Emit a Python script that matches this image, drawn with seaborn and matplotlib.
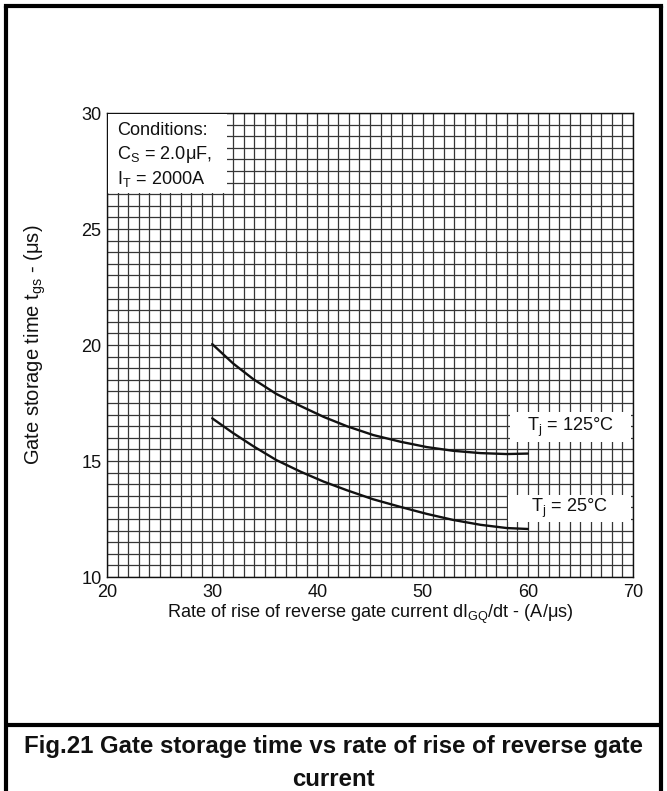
import numpy as np
import pandas as pd
import matplotlib
matplotlib.use("Agg")
import matplotlib.pyplot as plt
from matplotlib.patches import Rectangle
from matplotlib.lines import Line2D
from matplotlib import font_manager
import seaborn as sns

# ---- data ----
x_125 = [30, 32, 33.9, 36.1, 38.4, 40.6, 42.8, 45.3, 47.9, 50.4, 52.9, 55.5, 58, 60]
y_125 = [20.04, 19.2, 18.53, 17.89, 17.37, 16.9, 16.5, 16.12, 15.83, 15.6, 15.44, 15.34, 15.3, 15.32]
x_25 = [30, 32, 33.9, 36.1, 38.4, 40.6, 42.8, 45.3, 47.9, 50.4, 52.9, 55.5, 58, 60]
y_25 = [16.84, 16.2, 15.64, 15.04, 14.54, 14.11, 13.74, 13.35, 13.02, 12.72, 12.46, 12.25, 12.11, 12.07]
x_ticks = [20, 30, 40, 50, 60, 70]
y_ticks = [10, 15, 20, 25, 30]
series_labels = ["T$_{\\mathregular{j}}$ = 125°C", "T$_{\\mathregular{j}}$ = 25°C"]

df = pd.concat([
    pd.DataFrame({"x": x_125, "y": y_125, "s": "125"}),
    pd.DataFrame({"x": x_25, "y": y_25, "s": "25"}),
])

sns.set_style("white")
names = {f.name for f in font_manager.fontManager.ttflist}
if "Liberation Sans Narrow" in names:
    narrow = "Liberation Sans Narrow"
    k = 1.0
else:
    narrow = "Liberation Sans"
    k = 0.84
plt.rcParams["font.family"] = ["Liberation Sans", "DejaVu Sans"]
plt.rcParams["mathtext.fontset"] = "custom"
plt.rcParams["mathtext.rm"] = "Liberation Sans"
plt.rcParams["mathtext.default"] = "regular"

NF = [narrow, "DejaVu Sans"]
fs = 15.5 * k
ink = "#111111"

fig = plt.figure(figsize=(6.67, 7.91), dpi=100)
ax = fig.add_axes([107/667, 1-577/791, (633-107)/667, (577-113)/791])

# fine grid
ax.set_xlim(20, 70)
ax.set_ylim(10, 30)
ax.set_xticks(x_ticks)
ax.set_yticks(y_ticks)
ax.set_xticks(np.arange(20, 70.01, 1), minor=True)
ax.set_yticks(np.arange(10, 30.01, 0.5), minor=True)
ax.grid(which="both", color="#363636", linewidth=0.9)
ax.set_axisbelow(True)
ax.tick_params(which="both", length=0, colors=ink)
ax.tick_params(axis="x", pad=5)
ax.tick_params(axis="y", pad=4)
for lab in ax.get_xticklabels() + ax.get_yticklabels():
    lab.set_family(NF)
    lab.set_fontsize(fs)
for s in ax.spines.values():
    s.set_color(ink)
    s.set_linewidth(1.0)

sns.lineplot(data=df, x="x", y="y", units="s", estimator=None, color=ink,
             linewidth=1.7, ax=ax, legend=False, zorder=5, sort=False)

ax.set_xlabel("Rate of rise of reverse gate current dI$_{\\mathregular{GQ}}$/dt - (A/μs)",
              fontsize=fs, family=NF, labelpad=1, color=ink)
ax.set_ylabel("Gate storage time t$_{\\mathregular{gs}}$ - (μs)", fontsize=14.5,
              labelpad=0, color=ink)
ax.yaxis.set_label_coords((35 - 107) / (633 - 107), 0.5)
ax.yaxis.label.set_va("center")

# annotation boxes
ax.add_patch(Rectangle((20.1, 26.55), 11.3, 3.4, facecolor="white", edgecolor="none", zorder=3))
ax.text(20.95, 29.6, "Conditions:\nC$_{\\mathregular{S}}$ = 2.0μF,\nI$_{\\mathregular{T}}$ = 2000A",
        fontsize=fs, family=NF, va="top", ha="left", linespacing=1.3, zorder=6, color=ink)
ax.add_patch(Rectangle((58.3, 15.82), 11.55, 1.3, facecolor="white", edgecolor="none", zorder=3))
ax.text(64.1, 16.45, series_labels[0], fontsize=fs, family=NF, ha="center", va="center",
        zorder=6, color=ink)
ax.add_patch(Rectangle((58.1, 12.37), 11.75, 1.16, facecolor="white", edgecolor="none", zorder=3))
ax.text(64.0, 12.95, series_labels[1], fontsize=fs, family=NF, ha="center", va="center",
        zorder=6, color=ink)

# outer frame and caption
lw = 3.0
fig.add_artist(Line2D([6/667, 6/667], [0, 1-6/791], color="black", linewidth=lw))
fig.add_artist(Line2D([661/667, 661/667], [0, 1-6/791], color="black", linewidth=lw))
fig.add_artist(Line2D([6/667, 661/667], [1-6/791, 1-6/791], color="black", linewidth=lw,
                      solid_capstyle="projecting"))
fig.add_artist(Line2D([6/667, 661/667], [1-725/791, 1-725/791], color="black", linewidth=lw))
fig.text(0.5, 1-746/791, "Fig.21 Gate storage time vs rate of rise of reverse gate",
         ha="center", va="center", fontsize=17.3, fontweight="bold", color=ink)
fig.text(0.5, 1-779/791, "current", ha="center", va="center", fontsize=17.3,
         fontweight="bold", color=ink)

fig.savefig("out.png", dpi=100, facecolor="white")
